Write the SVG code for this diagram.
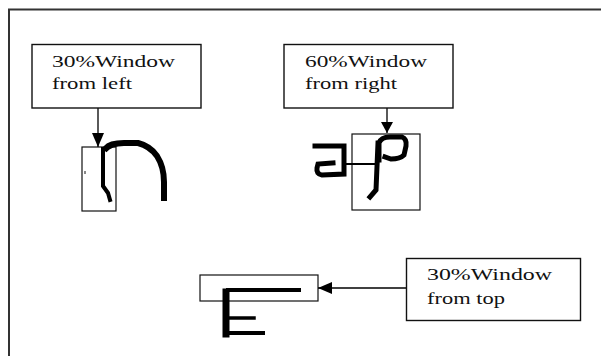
<svg xmlns="http://www.w3.org/2000/svg" width="601" height="356" viewBox="0 0 601 356">
<style>
.box{fill:#fff;stroke:#111;stroke-width:1.4}
.win{fill:none;stroke:#111;stroke-width:1.2}
.lbl{font-family:"Liberation Serif","Times New Roman",serif;font-size:16px;fill:#111}
.conn{stroke:#000;stroke-width:1.3;fill:none}
.ink{fill:none;stroke:#000;stroke-linecap:square;stroke-linejoin:miter}
</style>
<defs>
<marker id="ah" viewBox="0 0 14 12" refX="14" refY="6" markerWidth="14" markerHeight="12" markerUnits="userSpaceOnUse" orient="auto">
<path d="M0,0 L14,6 L0,12 Z" fill="#000"/>
</marker>
<marker id="ahs" viewBox="0 0 11 12" refX="11" refY="6" markerWidth="11" markerHeight="12" markerUnits="userSpaceOnUse" orient="auto">
<path d="M0,0 L11,6 L0,12 Z" fill="#000"/>
</marker>
</defs>
<rect width="601" height="356" fill="#fff"/>
<path d="M9,356 V9.5 H601" fill="none" stroke="#333" stroke-width="2"/>

<g id="glyph-left">
<rect class="win" x="82" y="147" width="34" height="64"/>
<path class="ink" stroke-width="4" d="M103,149 L103,186 L108,193 L110,200"/>
<path class="ink" stroke-width="6" d="M106,148 Q110,143 124,143 L138,143 Q150,146 157,156 Q164,167 164,182 L164,198"/>
<rect x="84" y="171" width="2" height="3" fill="#888"/>
</g>

<g id="glyph-right">
<rect class="win" x="352" y="134" width="68" height="76"/>
<path class="ink" stroke-width="5" d="M315,146 L344,146 L344,174 L322,175 Q316,174 317,168 L318,164 L333,163"/>
<path class="ink" stroke-width="2" d="M346,164 L374,164"/>
<path class="ink" stroke-width="5" d="M379,160 L379,143 Q381,137 390,137 L402,137 Q407,139 406,146 L404,155 Q400,159 391,159 L385,157"/>
<path class="ink" stroke-width="5" d="M378,143 L376,190 L370,197"/>
</g>

<g id="glyph-bottom">
<rect class="win" x="200" y="275" width="118" height="26"/>
<path class="ink" stroke-width="4" d="M228,290 L299,290"/>
<path class="ink" stroke-width="7" d="M226,292 L226,334"/>
<path class="ink" stroke-width="3.5" d="M228,318 L254,318"/>
<path class="ink" stroke-width="4" d="M228,333 L263,333"/>
</g>

<g id="connectors">
<line class="conn" x1="98" y1="108" x2="98" y2="147" marker-end="url(#ah)"/>
<line class="conn" x1="387" y1="108" x2="387" y2="133" marker-end="url(#ahs)"/>
<line class="conn" x1="406" y1="288" x2="318" y2="288" marker-end="url(#ah)"/>
</g>

<g id="label-left">
<rect class="box" x="32" y="44.5" width="169" height="63.5"/>
<text class="lbl" x="52" y="67" textLength="123" lengthAdjust="spacingAndGlyphs">30%Window</text>
<text class="lbl" x="52" y="89" textLength="80" lengthAdjust="spacingAndGlyphs">from left</text>
</g>

<g id="label-right">
<rect class="box" x="284" y="44.5" width="169" height="63.5"/>
<text class="lbl" x="305" y="67" textLength="122" lengthAdjust="spacingAndGlyphs">60%Window</text>
<text class="lbl" x="305" y="89" textLength="92" lengthAdjust="spacingAndGlyphs">from right</text>
</g>

<g id="label-bottom">
<rect class="box" x="406.5" y="258.5" width="174" height="62"/>
<text class="lbl" x="427" y="280" textLength="125" lengthAdjust="spacingAndGlyphs">30%Window</text>
<text class="lbl" x="427" y="304" textLength="78" lengthAdjust="spacingAndGlyphs">from top</text>
</g>
</svg>
